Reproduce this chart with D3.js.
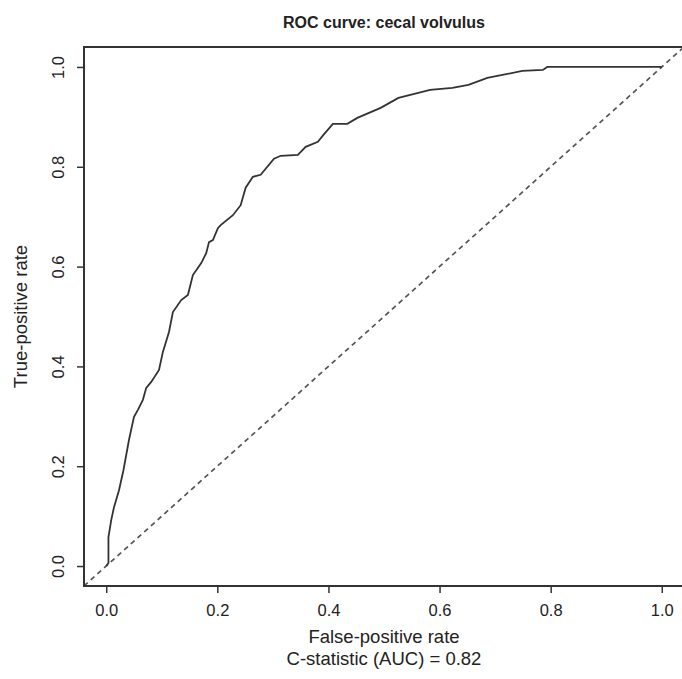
<!DOCTYPE html>
<html>
<head>
<meta charset="utf-8">
<script src="https://cdn.jsdelivr.net/npm/d3@7"></script>
<style>
  body { margin: 0; background: #fff; }
  text { font-family: "Liberation Sans", Arial, sans-serif; fill: #222; }
</style>
</head>
<body>
<div id="chart-area"></div>
<script>
// ROC curve points
var fpr = [0, 0.004, 0.004, 0.009, 0.014, 0.023, 0.031, 0.041, 0.050, 0.057, 0.066, 0.072,
           0.081, 0.095, 0.102, 0.113, 0.120, 0.135, 0.147, 0.156, 0.171, 0.180, 0.185, 0.192,
           0.201, 0.206, 0.228, 0.242, 0.251, 0.264, 0.278, 0.302, 0.314, 0.345, 0.359, 0.381,
           0.391, 0.408, 0.434, 0.452, 0.494, 0.526, 0.583, 0.623, 0.652, 0.686, 0.749, 0.786,
           0.794, 1.0];
var tpr = [0, 0.006, 0.058, 0.092, 0.118, 0.152, 0.192, 0.253, 0.299, 0.313, 0.333, 0.357,
           0.369, 0.393, 0.429, 0.469, 0.509, 0.533, 0.543, 0.583, 0.607, 0.627, 0.649, 0.653,
           0.677, 0.683, 0.703, 0.723, 0.758, 0.780, 0.784, 0.816, 0.822, 0.824, 0.840, 0.850,
           0.864, 0.886, 0.886, 0.898, 0.918, 0.938, 0.954, 0.958, 0.964, 0.978, 0.992, 0.994,
           1.0, 1.0];
var ticks = [0, 0.2, 0.4, 0.6, 0.8, 1.0];
var diagonal = [-0.04, 1.04];

var total_width = 682, total_height = 679;
var margin = {top: 47, right: -2, bottom: 93, left: 84};
var width = total_width - margin.left - margin.right;
var height = total_height - margin.top - margin.bottom;

var svg = d3.select('#chart-area').append('svg')
            .attr("width", total_width)
            .attr("height", total_height);

var g = svg.append('g')
           .attr("transform", "translate(" + margin.left + "," + margin.top + ")");

var x = d3.scaleLinear().domain([-0.04, 1.04]).range([0, width]);
var y = d3.scaleLinear().domain([-0.04, 1.04]).range([height, 0]);

g.append("clipPath").attr("id", "clip")
 .append("rect").attr("width", width).attr("height", height);

// reference diagonal
g.append("line")
 .attr("clip-path", "url(#clip)")
 .attr("x1", x(diagonal[0])).attr("y1", y(diagonal[0]))
 .attr("x2", x(diagonal[1])).attr("y2", y(diagonal[1]))
 .style("stroke", "#555")
 .style("stroke-width", 1.7)
 .style("stroke-dasharray", "5,4");

var line = d3.line()
             .x(function(d, i) { return x(fpr[i]); })
             .y(function(d, i) { return y(tpr[i]); });

g.append("path")
 .datum(fpr)
 .attr("d", line)
 .style("fill", "none")
 .style("stroke", "#333")
 .style("stroke-width", 1.8);

// box
g.append("rect")
 .attr("width", width).attr("height", height)
 .style("fill", "none")
 .style("stroke", "#333")
 .style("stroke-width", 2);

var xAxis = d3.axisBottom(x).tickValues(ticks).tickSize(7).tickPadding(11).tickFormat(d3.format(".1f"));
var yAxis = d3.axisLeft(y).tickValues(ticks).tickSize(7).tickPadding(9).tickFormat(d3.format(".1f"));

var gx = g.append("g").attr("transform", "translate(0," + height + ")").call(xAxis);
var gy = g.append("g").call(yAxis);

[gx, gy].forEach(function(a) {
  a.select(".domain").remove();
  a.selectAll("line").style("stroke", "#333").style("stroke-width", 1.5);
  a.selectAll("text").style("font-size", "16.5px").style("fill", "#222")
   .style("font-family", '"Liberation Sans", Arial, sans-serif');
});

gy.selectAll("text")
  .attr("transform", "rotate(-90)")
  .attr("x", 0).attr("y", -20)
  .attr("dy", "0")
  .style("text-anchor", "middle");

svg.append("text")
   .attr("x", margin.left + x(0.5))
   .attr("y", 28)
   .style("text-anchor", "middle")
   .style("font-size", "16px")
   .style("font-weight", "bold")
   .text("ROC curve: cecal volvulus");

svg.append("text")
   .attr("x", margin.left + x(0.5))
   .attr("y", 643)
   .style("text-anchor", "middle")
   .style("font-size", "18.5px")
   .text("False-positive rate");

svg.append("text")
   .attr("x", margin.left + x(0.5))
   .attr("y", 665)
   .style("text-anchor", "middle")
   .style("font-size", "18.5px")
   .text("C-statistic (AUC) = 0.82");

svg.append("text")
   .attr("transform", "translate(27," + (margin.top + y(0.5)) + ") rotate(-90)")
   .style("text-anchor", "middle")
   .style("font-size", "18.5px")
   .text("True-positive rate");
</script>
</body>
</html>
